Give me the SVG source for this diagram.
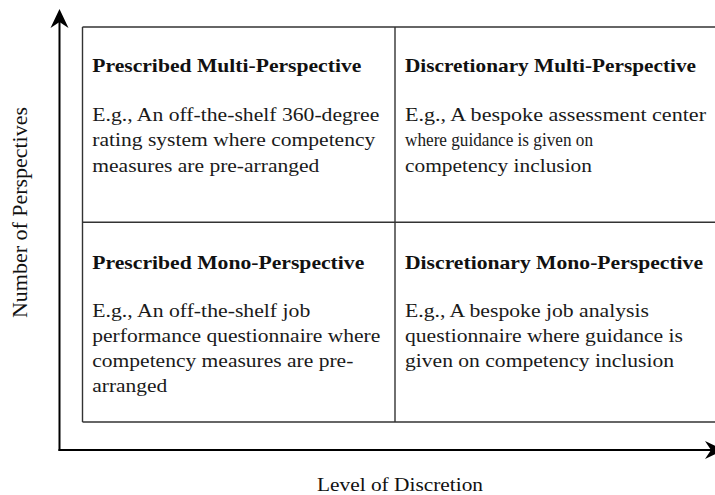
<svg xmlns="http://www.w3.org/2000/svg" width="715" height="495" viewBox="0 0 715 495">
  <style>
    .title { font-family: "Liberation Serif", "Times New Roman", serif; font-weight: bold; font-size: 19px; fill: #111; }
    .body { font-family: "Liberation Serif", "Times New Roman", serif; font-size: 19px; fill: #1a1a1a; }
    .axis-label { font-family: "Liberation Serif", "Times New Roman", serif; font-size: 18px; fill: #111; }
    .grid { stroke: #333; stroke-width: 1.4; fill: none; }
    .axis { stroke: #000; stroke-width: 2; fill: none; }
    .head { fill: #000; }
  </style>
  <rect width="715" height="495" fill="#fff"/>

  <!-- axes -->
  <g id="connectors">
    <line class="axis" x1="59.5" y1="451" x2="59.5" y2="18"/>
    <path class="head" d="M59.5,9 L68.5,28 L59.5,22 L50.5,28 Z"/>
    <line class="axis" x1="58.5" y1="450" x2="714" y2="450"/>
    <path class="head" d="M724,450 L705,441 L711,450 L705,459 Z"/>
  </g>

  <!-- quadrant grid -->
  <g id="grid">
    <line class="grid" x1="82.5" y1="27" x2="715" y2="27"/>
    <line class="grid" x1="82.5" y1="222.3" x2="715" y2="222.3"/>
    <line class="grid" x1="82.5" y1="422" x2="715" y2="422"/>
    <line class="grid" x1="82.5" y1="27" x2="82.5" y2="422"/>
    <line class="grid" x1="395" y1="27" x2="395" y2="422"/>
  </g>

  <g id="prescribed-multi">
    <text class="title" x="92.3" y="72" textLength="269" lengthAdjust="spacingAndGlyphs">Prescribed Multi-Perspective</text>
    <text class="body" x="92.3" y="120.5" textLength="287" lengthAdjust="spacingAndGlyphs">E.g., An off-the-shelf 360-degree</text>
    <text class="body" x="92.3" y="146.2" textLength="283" lengthAdjust="spacingAndGlyphs">rating system where competency</text>
    <text class="body" x="92.3" y="171.7" textLength="227" lengthAdjust="spacingAndGlyphs">measures are pre-arranged</text>
  </g>

  <g id="discretionary-multi">
    <text class="title" x="405" y="72" textLength="291" lengthAdjust="spacingAndGlyphs">Discretionary Multi-Perspective</text>
    <text class="body" x="405" y="120.5" textLength="301" lengthAdjust="spacingAndGlyphs">E.g., A bespoke assessment center</text>
    <text class="body" x="405" y="146.2" textLength="188" lengthAdjust="spacingAndGlyphs">where guidance is given on</text>
    <text class="body" x="405" y="171.7" textLength="187" lengthAdjust="spacingAndGlyphs">competency inclusion</text>
  </g>

  <g id="prescribed-mono">
    <text class="title" x="92.3" y="269.3" textLength="272" lengthAdjust="spacingAndGlyphs">Prescribed Mono-Perspective</text>
    <text class="body" x="92.3" y="317.3" textLength="218" lengthAdjust="spacingAndGlyphs">E.g., An off-the-shelf job</text>
    <text class="body" x="92.3" y="342.3" textLength="288" lengthAdjust="spacingAndGlyphs">performance questionnaire where</text>
    <text class="body" x="92.3" y="367" textLength="261" lengthAdjust="spacingAndGlyphs">competency measures are pre-</text>
    <text class="body" x="92.3" y="391.7" textLength="75" lengthAdjust="spacingAndGlyphs">arranged</text>
  </g>

  <g id="discretionary-mono">
    <text class="title" x="405" y="269.3" textLength="298" lengthAdjust="spacingAndGlyphs">Discretionary Mono-Perspective</text>
    <text class="body" x="405" y="317.3" textLength="244" lengthAdjust="spacingAndGlyphs">E.g., A bespoke job analysis</text>
    <text class="body" x="405" y="342.3" textLength="278" lengthAdjust="spacingAndGlyphs">questionnaire where guidance is</text>
    <text class="body" x="405" y="367" textLength="269" lengthAdjust="spacingAndGlyphs">given on competency inclusion</text>
  </g>

  <!-- axis titles -->
  <g id="axis-x-label">
    <text class="axis-label" x="317" y="490.5" textLength="166" lengthAdjust="spacingAndGlyphs">Level of Discretion</text>
  </g>
  <g id="axis-y-label">
    <text class="axis-label" transform="translate(27,318) rotate(-90)" x="0" y="0" style="font-size:21px" textLength="211" lengthAdjust="spacingAndGlyphs">Number of Perspectives</text>
  </g>
</svg>
